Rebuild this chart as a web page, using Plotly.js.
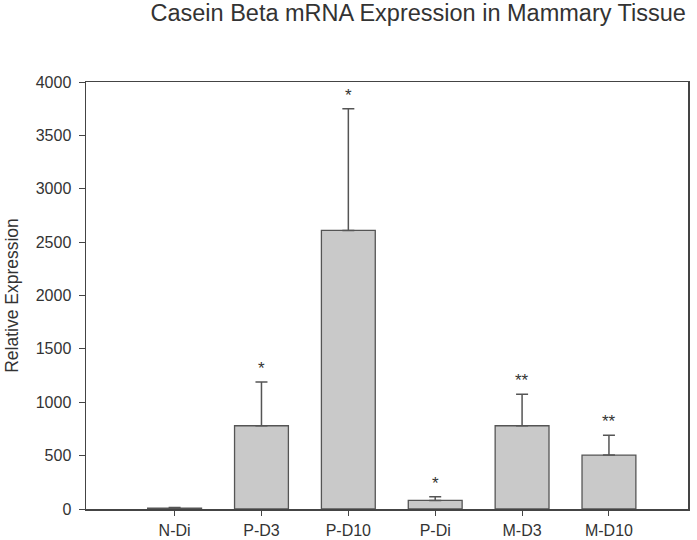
<!DOCTYPE html>
<html>
<head>
<meta charset="utf-8">
<script src="https://cdn.plot.ly/plotly-3.0.1.min.js"></script>
<style>html,body{margin:0;padding:0;background:#fff;}#chart{width:697px;height:540px;}</style>
</head>
<body>
<div id="chart"></div>
<script>
const categories = ["N-Di", "P-D3", "P-D10", "P-Di", "M-D3", "M-D10"];
const values = [8, 780, 2610, 80, 780, 505];
const errorsUp = [6, 410, 1140, 35, 295, 185];
const marks = ["", "*", "*", "*", "**", "**"];
const yTicks = [0, 500, 1000, 1500, 2000, 2500, 3000, 3500, 4000];

const font = "Liberation Sans, Arial, sans-serif";
const idx = categories.map((c, i) => i);

const trace = {
  type: "bar",
  x: idx,
  y: values,
  width: 0.62,
  marker: {color: "#c9c9c9", line: {color: "#555555", width: 1.3}},
  error_y: {type: "data", symmetric: false, array: errorsUp, arrayminus: values.map(() => 0),
            color: "#555555", thickness: 1.5, width: 6},
  hoverinfo: "none"
};

const annotations = marks.map((m, i) => ({
  x: i, y: values[i] + errorsUp[i], xref: "x", yref: "y",
  text: m, showarrow: false, yanchor: "bottom", yshift: 2,
  font: {family: font, size: 17, color: "#333333"}
})).filter(a => a.text);

const layout = {
  width: 697, height: 540,
  margin: {l: 86, r: 9, t: 82, b: 31},
  paper_bgcolor: "#ffffff", plot_bgcolor: "#ffffff",
  showlegend: false,
  title: {text: "Casein Beta mRNA Expression in Mammary Tissue", x: 0.6, xanchor: "center", xref: "container",
          y: 0.976, yanchor: "middle", yref: "container",
          font: {family: font, size: 23.5, color: "#333333"}},
  xaxis: {
    range: [-1.02, 5.91], tickvals: idx, ticktext: categories,
    showline: true, mirror: true, linecolor: "#444444", linewidth: 1.5,
    ticks: "outside", ticklen: 5, tickcolor: "#444444", tickwidth: 1,
    ticklabelstandoff: 1,
    showgrid: false, zeroline: false,
    tickfont: {family: font, size: 16, color: "#333333"}
  },
  yaxis: {
    range: [0, 4000], tickvals: yTicks,
    showline: true, mirror: true, linecolor: "#444444", linewidth: 1.5,
    ticks: "outside", ticklen: 6, tickcolor: "#444444", tickwidth: 1,
    ticklabelstandoff: 4,
    showgrid: false, zeroline: false,
    tickfont: {family: font, size: 16, color: "#333333"},
    title: {text: "Relative Expression", standoff: 12, font: {family: font, size: 17.5, color: "#333333"}}
  },
  annotations: annotations
};

Plotly.newPlot("chart", [trace], layout, {displayModeBar: false, staticPlot: true});
</script>
</body>
</html>
